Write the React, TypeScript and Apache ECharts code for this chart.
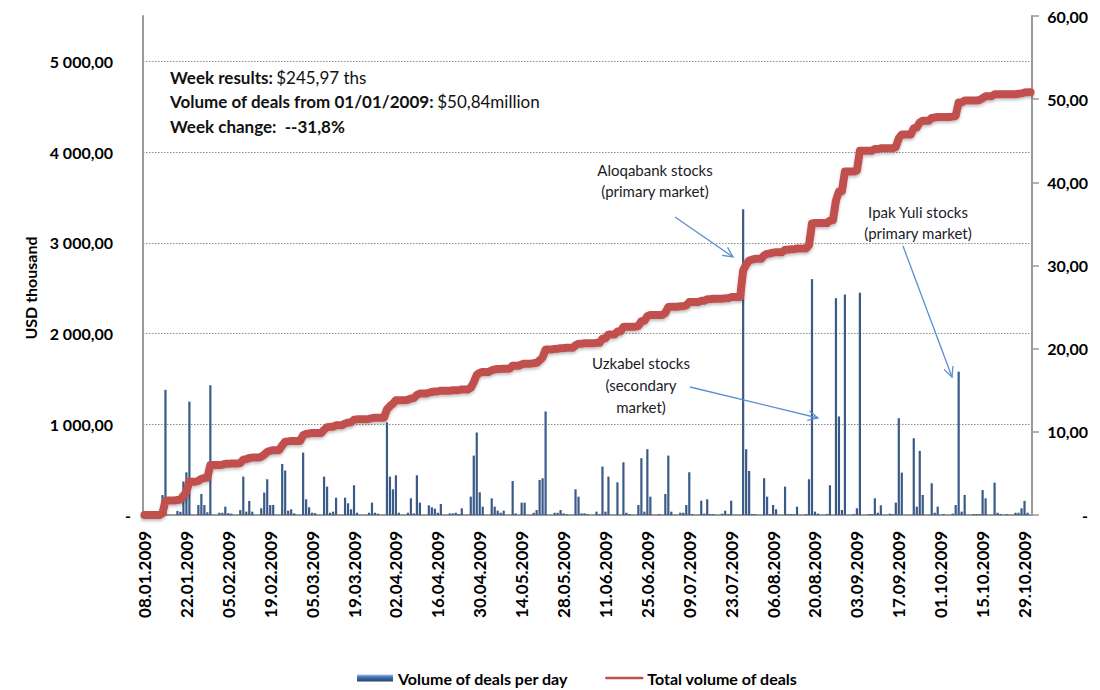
import React, { useEffect, useRef } from "react";
import * as echarts from "echarts";

// ---- categories: calendar days from 08.01.2009 to 31.10.2009 ----
const START_UTC = Date.UTC(2009, 0, 8);
const DAY_COUNT = 297;
const pad = (n: number) => (n < 10 ? "0" + n : "" + n);
const categories: string[] = [];
for (let i = 0; i < DAY_COUNT; i++) {
  const d = new Date(START_UTC + i * 86400000);
  categories.push(pad(d.getUTCDate()) + "." + pad(d.getUTCMonth() + 1) + "." + d.getUTCFullYear());
}

const xTickLabels = [
  "08.01.2009", "22.01.2009", "05.02.2009", "19.02.2009", "05.03.2009", "19.03.2009",
  "02.04.2009", "16.04.2009", "30.04.2009", "14.05.2009", "28.05.2009", "11.06.2009",
  "25.06.2009", "09.07.2009", "23.07.2009", "06.08.2009", "20.08.2009", "03.09.2009",
  "17.09.2009", "01.10.2009", "15.10.2009", "29.10.2009",
];

// ---- Volume of deals per day (USD thousand), by month ----
const volJan = [0,0,0,0,0,0,220,1380,0,0,0,45,35,370,470,1250,0,0,110,232,110,30,1430,0];
const volFeb = [0,25,25,92,20,15,0,0,55,423,37,155,37,0,0,74,247,394,110,110,0,0,563,490,48,63,18,0];
const volMar = [0,688,173,85,25,20,0,0,423,313,25,37,191,0,0,191,129,63,328,25,0,0,0,25,136,25,15,0,0,1020,423];
const volApr = [283,438,25,0,0,25,184,18,438,136,0,0,107,85,70,25,121,0,0,18,18,25,10,74,0,0,202,655,909,250];
const volMay = [92,0,0,184,92,48,25,48,0,0,375,18,0,136,136,0,0,25,55,386,405,1141,0,0,25,25,55,18,10,0,0];
const volJun = [283,202,18,18,10,0,0,37,10,534,37,423,0,0,360,0,581,25,10,0,0,110,626,37,725,202,0,0,10,0];
const volJul = [232,655,37,0,0,25,25,110,471,10,0,0,158,15,173,10,10,0,0,15,48,10,158,0,0,0,3370,725,486,10,10];
const volAug = [0,0,405,202,10,110,63,0,0,313,10,10,10,92,0,0,10,394,2600,37,15,0,0,10,328,0,2390,1086,55,2430,0];
const volSep = [0,10,74,2450,0,0,10,10,184,25,107,0,0,15,10,136,1067,467,0,0,0,846,92,707,221,0,0,350,25,92];
const volOct = [0,10,0,0,15,110,1580,37,221,0,0,10,10,10,276,184,0,0,357,25,10,0,10,0,0,25,25,74,155,25,0];

// ---- Total volume of deals (USD million), by month ----
const totJan = [0,0,0,0,0,0,0.2,1.7,1.75,1.75,1.75,1.8,1.85,2.3,2.8,4.0,4.0,4.0,4.1,4.35,4.45,4.5,6.0,6.0];
const totFeb = [6.0,6.0,6.05,6.15,6.15,6.2,6.2,6.2,6.25,6.65,6.7,6.85,6.9,6.9,6.9,7.0,7.25,7.6,7.7,7.8,7.8,7.8,8.35,8.8,8.85,8.9,8.9,8.9];
const totMar = [8.9,9.6,9.75,9.8,9.85,9.85,9.85,9.85,10.25,10.55,10.6,10.6,10.8,10.8,10.8,11.0,11.1,11.15,11.45,11.5,11.5,11.5,11.5,11.55,11.65,11.7,11.7,11.7,11.7,12.7,13.1];
const totApr = [13.4,13.8,13.8,13.8,13.8,13.85,14.0,14.05,14.45,14.6,14.6,14.6,14.7,14.8,14.85,14.85,14.95,14.95,14.95,14.95,15.0,15.0,15.0,15.1,15.1,15.1,15.3,15.95,16.85,17.1];
const totMay = [17.2,17.2,17.2,17.4,17.5,17.55,17.55,17.6,17.6,17.6,17.95,17.95,17.95,18.1,18.2,18.2,18.2,18.25,18.3,18.6,18.95,19.9,19.9,19.9,19.95,20.0,20.05,20.05,20.1,20.1,20.1];
const totJun = [20.4,20.6,20.6,20.65,20.65,20.65,20.65,20.7,20.7,21.2,21.25,21.7,21.7,21.7,22.05,22.05,22.6,22.65,22.65,22.65,22.65,22.75,23.3,23.35,23.9,24.05,24.05,24.05,24.05,24.05];
const totJul = [24.3,25.0,25.05,25.05,25.05,25.1,25.1,25.2,25.6,25.6,25.6,25.6,25.75,25.75,25.95,25.95,26.0,26.0,26.0,26.0,26.05,26.05,26.2,26.2,26.2,26.2,29.4,30.1,30.6,30.7,30.8];
const totAug = [30.8,30.8,31.2,31.4,31.45,31.55,31.6,31.6,31.6,31.9,31.9,31.95,31.95,32.05,32.05,32.05,32.05,32.45,35.05,35.1,35.1,35.1,35.1,35.1,35.4,35.45,37.8,38.9,38.95,41.3,41.3];
const totSep = [41.3,41.3,41.4,43.8,43.8,43.8,43.8,43.8,44.0,44.0,44.1,44.1,44.1,44.1,44.1,44.25,45.3,45.75,45.75,45.75,45.75,46.5,46.6,47.2,47.4,47.4,47.4,47.75,47.8,47.85];
const totOct = [47.85,47.85,47.85,47.85,47.9,48.0,49.6,49.6,49.85,49.85,49.85,49.85,49.85,49.9,50.1,50.35,50.35,50.35,50.6,50.6,50.6,50.6,50.6,50.6,50.6,50.6,50.65,50.7,50.8,50.84,50.84];

const dailyVolume = [...volJan, ...volFeb, ...volMar, ...volApr, ...volMay, ...volJun, ...volJul, ...volAug, ...volSep, ...volOct];
const totalVolume = [...totJan, ...totFeb, ...totMar, ...totApr, ...totMay, ...totJun, ...totJul, ...totAug, ...totSep, ...totOct];

const SERIES_BAR = "Volume of deals per day";
const SERIES_LINE = "Total volume of deals";

const FONT = "Lato";

function fmtNum(v: number): string {
  const fixed = v.toFixed(2);
  const [intPart, dec] = fixed.split(".");
  const withSpaces = intPart.replace(/\B(?=(\d{3})+(?!\d))/g, " ");
  return withSpaces + "," + dec;
}

function arrow(x1: number, y1: number, x2: number, y2: number, color: string) {
  const ang = Math.atan2(y2 - y1, x2 - x1);
  const len = 11;
  const spread = 0.45;
  const p1 = [x2 - len * Math.cos(ang - spread), y2 - len * Math.sin(ang - spread)];
  const p2 = [x2 - len * Math.cos(ang + spread), y2 - len * Math.sin(ang + spread)];
  return [
    { type: "line", shape: { x1, y1, x2, y2 }, style: { stroke: color, lineWidth: 1.3 }, z: 10 },
    { type: "polyline", shape: { points: [p1, [x2, y2], p2] }, style: { stroke: color, lineWidth: 1.3, fill: null }, z: 10 },
  ];
}

export default function App() {
  const ref = useRef<HTMLDivElement>(null);

  useEffect(() => {
    if (!ref.current) return;
    const chart = echarts.init(ref.current, null, { renderer: "svg" });
    const arrowColor = "#5b8fd0";
    const annColor = "#1c1c28";

    const option: any = {
      animation: false,
      backgroundColor: "#ffffff",
      textStyle: { fontFamily: FONT },
      grid: { left: 143, right: 68, top: 16, bottom: 175, containLabel: false },
      legend: {
        left: 357,
        top: 670,
        padding: 0,
        itemWidth: 36,
        itemHeight: 7,
        itemGap: 37,
        textStyle: { fontFamily: FONT, fontWeight: "bold", fontSize: 16, color: "#000" },
        data: [
          {
            name: SERIES_BAR,
            icon: "rect",
            itemStyle: {
              color: new echarts.graphic.LinearGradient(0, 0, 0, 1, [
                { offset: 0, color: "#a9c6ec" },
                { offset: 0.35, color: "#4a75b0" },
                { offset: 1, color: "#1f4272" },
              ]),
            },
          },
          { name: SERIES_LINE, lineStyle: { width: 2.5 }, itemStyle: { opacity: 0 } },
        ],
      },
      xAxis: {
        type: "category",
        data: categories,
        boundaryGap: true,
        axisLine: { show: true, lineStyle: { color: "#9a9a9a", width: 2 } },
        axisTick: { show: false },
        splitLine: { show: false },
        axisLabel: {
          interval: (_i: number, v: string) => xTickLabels.includes(v),
          rotate: 90,
          margin: 16,
          fontFamily: FONT,
          fontWeight: "bold",
          fontSize: 17,
          color: "#000",
        },
      },
      yAxis: [
        {
          type: "value",
          min: 0,
          max: 5500,
          interval: 1000,
          position: "left",
          axisLine: { show: true, lineStyle: { color: "#9a9a9a", width: 2 } },
          axisTick: { show: false },
          splitLine: {
            show: true,
            showMinLine: false,
            showMaxLine: false,
            lineStyle: { color: "#8a8a8a", width: 1, type: [1.5, 1.5] },
          },
          axisLabel: {
            showMaxLabel: false,
            margin: 12,
            align: "right",
            fontFamily: FONT,
            fontWeight: "bold",
            fontSize: 16,
            color: "#000",
            formatter: (v: number) => (v === 0 ? "-" : "{n|" + fmtNum(v) + "}"),
            rich: { n: { fontFamily: FONT, fontWeight: "bold", fontSize: 16, color: "#000", padding: [0, 18, 0, 0] } },
          },
        },
        {
          type: "value",
          min: 0,
          max: 60,
          interval: 10,
          position: "right",
          axisLine: { show: true, lineStyle: { color: "#9a9a9a", width: 2 } },
          axisTick: { show: true, inside: false, length: 7, lineStyle: { color: "#9a9a9a", width: 1.5 } },
          splitLine: { show: false },
          axisLabel: {
            margin: 56,
            align: "right",
            fontFamily: FONT,
            fontWeight: "bold",
            fontSize: 16,
            color: "#000",
            formatter: (v: number) => (v === 0 ? "-" : fmtNum(v)),
          },
        },
      ],
      series: [
        {
          name: SERIES_BAR,
          type: "bar",
          yAxisIndex: 0,
          data: dailyVolume,
          barWidth: 2.2,
          itemStyle: { color: "#3a5a88" },
          z: 2,
        },
        {
          name: SERIES_LINE,
          type: "line",
          yAxisIndex: 1,
          data: totalVolume,
          symbol: "none",
          showSymbol: false,
          clip: false,
          lineStyle: {
            color: "#c0504d",
            width: 8,
            join: "round",
            cap: "round",
            shadowColor: "rgba(0,0,0,0.25)",
            shadowBlur: 3,
            shadowOffsetY: 2,
          },
          itemStyle: { color: "#c0504d" },
          z: 3,
        },
      ],
      graphic: [
        {
          type: "text",
          x: 170,
          y: 65,
          z: 20,
          style: {
            text:
              "{b|Week results:} {r|$245,97 ths}\n" +
              "{b|Volume of deals from 01/01/2009:} {r|$50,84million}\n" +
              "{b|Week change:  --31,8%}",
            rich: {
              b: { fontFamily: FONT, fontWeight: "bold", fontSize: 17, lineHeight: 24.5, fill: "#111" },
              r: { fontFamily: FONT, fontSize: 17, lineHeight: 24.5, fill: "#111" },
            },
          },
        },
        {
          type: "text",
          x: 30,
          y: 288,
          rotation: Math.PI / 2,
          z: 20,
          style: {
            text: "USD thousand",
            fontFamily: FONT,
            fontWeight: "bold",
            fontSize: 16,
            fill: "#000",
            align: "center",
            verticalAlign: "middle",
          },
        },
        {
          type: "text",
          x: 655,
          y: 180,
          z: 20,
          style: {
            text: "Aloqabank stocks\n(primary market)",
            fontFamily: FONT,
            fontSize: 15,
            lineHeight: 21,
            fill: annColor,
            align: "center",
            verticalAlign: "middle",
          },
        },
        {
          type: "text",
          x: 918,
          y: 222,
          z: 20,
          style: {
            text: "Ipak Yuli stocks\n(primary market)",
            fontFamily: FONT,
            fontSize: 15,
            lineHeight: 21,
            fill: annColor,
            align: "center",
            verticalAlign: "middle",
          },
        },
        {
          type: "text",
          x: 641,
          y: 385,
          z: 20,
          style: {
            text: "Uzkabel stocks\n(secondary\nmarket)",
            fontFamily: FONT,
            fontSize: 15,
            lineHeight: 22,
            fill: annColor,
            align: "center",
            verticalAlign: "middle",
          },
        },
        ...arrow(675, 217, 733, 257, arrowColor),
        ...arrow(690, 387, 818, 418, arrowColor),
        ...arrow(903, 246, 952, 377, arrowColor),
      ],
    };

    chart.setOption(option);
    return () => chart.dispose();
  }, []);

  return (
    <div
      ref={ref}
      style={{ position: "fixed", left: 0, top: 0, width: 1100, height: 690, background: "#fff" }}
    />
  );
}
